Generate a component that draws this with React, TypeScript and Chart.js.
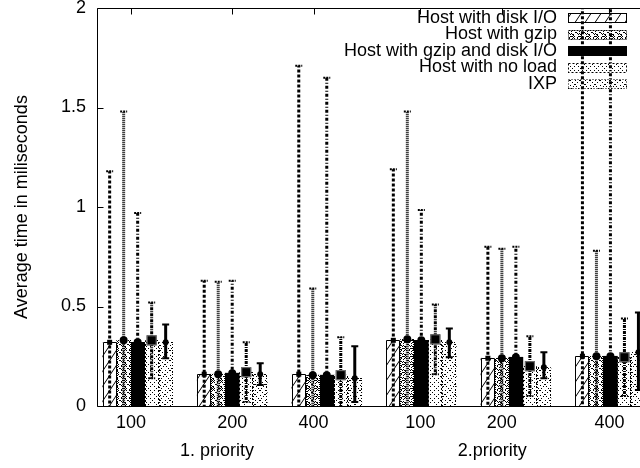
import React, { useEffect, useRef } from "react";
import { Chart, registerables } from "chart.js";

Chart.register(...registerables);

// ---------------- data ----------------
const xLabels = ["100", "200", "400", "100", "200", "400"];
const tickAt = [-0.07, 1.0, 1.86, 2.99, 3.85, 4.99];
const groupLabels = ["1. priority", "2.priority"];
const groupAt = [0.84, 3.75];
const seriesNames = [
  "Host with disk I/O",
  "Host with gzip",
  "Host with gzip and disk I/O",
  "Host with no load",
  "IXP",
];

const diskIO = [0.32, 0.16, 0.16, 0.33, 0.24, 0.25];
const diskIOLow = [-0.54, -0.31, -1.39, -0.53, -0.32, -1.8];
const diskIOHigh = [1.18, 0.63, 1.71, 1.19, 0.8, 2.3];

const gzip = [0.33, 0.16, 0.155, 0.335, 0.24, 0.25];
const gzipLow = [-0.82, -0.3, -0.28, -0.81, -0.31, -0.28];
const gzipHigh = [1.48, 0.625, 0.59, 1.48, 0.79, 0.78];

const gzipDisk = [0.32, 0.165, 0.155, 0.33, 0.245, 0.25];
const gzipDiskLow = [-0.33, -0.3, -1.34, -0.33, -0.31, -1.8];
const gzipDiskHigh = [0.97, 0.63, 1.65, 0.985, 0.8, 2.3];

const noLoad = [0.33, 0.17, 0.155, 0.335, 0.2, 0.245];
const noLoadLow = [0.14, 0.02, -0.03, 0.16, 0.05, 0.05];
const noLoadHigh = [0.52, 0.32, 0.345, 0.51, 0.35, 0.44];

const ixp = [0.32, 0.16, 0.14, 0.32, 0.195, 0.27];
const ixpLow = [0.24, 0.105, 0.02, 0.245, 0.14, 0.08];
const ixpHigh = [0.41, 0.215, 0.3, 0.39, 0.27, 0.47];

const yTitle = "Average time in miliseconds";

// ---------------- styles ----------------
const FONT = "Liberation Sans";
const FS = 18;
const borderDash = [[], [1, 1], [], [2, 2], [1, 2]];
const errDash = [[3, 2], [1, 1], [3, 2, 1, 2], [1, 1, 3, 1], []];

function makePattern(kind: number): CanvasPattern | string {
  if (kind === 2) return "#000";
  const c = document.createElement("canvas");
  const g = c.getContext("2d")!;
  const px = (x: number, y: number) => g.fillRect(x, y, 1, 1);
  if (kind === 0) {
    c.width = 10;
    c.height = 15;
    g.fillStyle = "#fff";
    g.fillRect(0, 0, 10, 15);
    g.strokeStyle = "#000";
    g.lineWidth = 1;
    for (const off of [-10, 0, 10]) {
      g.beginPath();
      g.moveTo(-2 + off, 18);
      g.lineTo(12 + off, -3);
      g.stroke();
    }
  } else if (kind === 1) {
    c.width = 8;
    c.height = 8;
    g.fillStyle = "#fff";
    g.fillRect(0, 0, 8, 8);
    g.fillStyle = "#000";
    for (let i = 0; i < 8; i += 1) {
      if (i % 2 === 0) {
        px(i, i);
        px(7 - i, i);
      }
    }
    px(3, 1); px(5, 3); px(1, 5); px(3, 7); px(1, 1); px(5, 5);
    px(4, 2); px(2, 4); px(6, 4); px(4, 6);
  } else if (kind === 3) {
    c.width = 8;
    c.height = 8;
    g.fillStyle = "#fff";
    g.fillRect(0, 0, 8, 8);
    g.fillStyle = "#000";
    px(0, 0); px(2, 2); px(4, 4); px(6, 6); px(6, 2); px(2, 6);
  } else {
    c.width = 10;
    c.height = 10;
    g.fillStyle = "#fff";
    g.fillRect(0, 0, 10, 10);
    g.fillStyle = "#000";
    for (let i = 0; i < 10; i++) {
      if (i % 2 === 0) {
        px(i, i);
        px(9 - i, i);
      }
    }
    px(5, 0); px(0, 5);
  }
  return g.createPattern(c, "repeat")!;
}

function drawMarker(ctx: CanvasRenderingContext2D, s: number, x: number, y: number) {
  ctx.save();
  ctx.setLineDash([]);
  ctx.fillStyle = "#000";
  if (s === 0) {
    ctx.fillRect(x - 2.5, y - 2.5, 5, 5);
  } else if (s === 3) {
    ctx.fillStyle = "#000";
    ctx.fillRect(x - 5, y - 5, 10, 10);
    ctx.strokeStyle = "#777";
    ctx.lineWidth = 1;
    ctx.strokeRect(x - 4.5, y - 4.5, 9, 9);
  } else {
    ctx.beginPath();
    ctx.arc(x, y, s === 4 ? 3 : 4, 0, Math.PI * 2);
    ctx.fill();
  }
  ctx.restore();
}

export default function App() {
  const ref = useRef<HTMLCanvasElement>(null);

  useEffect(() => {
    const canvas = ref.current!;
    const patterns = [0, 1, 2, 3, 4].map((k) => makePattern(k));
    const values = [diskIO, gzip, gzipDisk, noLoad, ixp];
    const lows = [diskIOLow, gzipLow, gzipDiskLow, noLoadLow, ixpLow];
    const highs = [diskIOHigh, gzipHigh, gzipDiskHigh, noLoadHigh, ixpHigh];
    const font = { family: FONT, size: FS };

    const gnuPlugin = {
      id: "gnu",
      beforeDatasetsDraw(chart: any) {
        const { ctx, chartArea: a, scales } = chart;
        ctx.save();
        ctx.strokeStyle = "#000";
        ctx.lineWidth = 1;
        ctx.setLineDash([]);
        ctx.beginPath();
        for (const v of tickAt) {
          const px = Math.round(scales.x.getPixelForValue(v)) + 0.5;
          ctx.moveTo(px, a.bottom);
          ctx.lineTo(px, a.bottom - 6);
        }
        ctx.stroke();
        ctx.restore();
      },
      afterDatasetsDraw(chart: any) {
        const { ctx, chartArea: a, scales } = chart;
        const xs = scales.x;
        const ys = scales.y;
        ctx.save();
        // bar outlines
        for (let s = 0; s < values.length; s++) {
          const meta = chart.getDatasetMeta(s);
          ctx.strokeStyle = "#000";
          ctx.lineWidth = 1;
          ctx.setLineDash(borderDash[s]);
          meta.data.forEach((bar: any) => {
            const { x, y, base, width } = bar.getProps(["x", "y", "base", "width"], true);
            const l = Math.round(x - width / 2) + 0.5;
            const r = Math.round(x + width / 2) - 0.5;
            const t = Math.round(y) + 0.5;
            const b = Math.round(base);
            ctx.beginPath();
            ctx.moveTo(l, b);
            ctx.lineTo(l, t);
            ctx.lineTo(r, t);
            ctx.lineTo(r, b);
            ctx.stroke();
          });
        }
        // frame
        ctx.setLineDash([]);
        ctx.strokeStyle = "#000";
        ctx.lineWidth = 1;
        const L = Math.round(a.left) + 0.5;
        const T = Math.round(a.top) + 0.5;
        const B = Math.round(a.bottom) + 0.5;
        const R = Math.round(a.right) + 0.5;
        ctx.beginPath();
        ctx.moveTo(R, T);
        ctx.lineTo(L, T);
        ctx.lineTo(L, B);
        ctx.lineTo(R, B);
        ctx.stroke();
        // inner ticks
        ctx.beginPath();
        for (const t of ys.ticks) {
          const py = Math.round(ys.getPixelForValue(t.value)) + 0.5;
          ctx.moveTo(L, py);
          ctx.lineTo(L + 6, py);
        }
        for (const v of tickAt) {
          const px = Math.round(xs.getPixelForValue(v)) + 0.5;
          ctx.moveTo(px, T);
          ctx.lineTo(px, T + 6);
        }
        ctx.stroke();
        // legend
        ctx.font = `${FS}px "${FONT}"`;
        ctx.textAlign = "right";
        ctx.textBaseline = "middle";
        ctx.fillStyle = "#000";
        const textRight = 557;
        const keyL = 568;
        const keyW = 59;
        const keyH = 10;
        seriesNames.forEach((name, s) => {
          const cy = 18 + s * 16.5;
          ctx.fillText(name, textRight, cy);
          const top = Math.round(cy - keyH / 2);
          ctx.fillStyle = patterns[s] as any;
          ctx.fillRect(keyL, top, keyW, keyH);
          ctx.setLineDash(borderDash[s]);
          ctx.strokeStyle = "#000";
          ctx.strokeRect(keyL + 0.5, top + 0.5, keyW - 1, keyH - 1);
          ctx.setLineDash([]);
          ctx.fillStyle = "#000";
        });
        // error bars
        ctx.beginPath();
        ctx.rect(a.left, a.top, a.right - a.left, a.bottom - a.top);
        ctx.clip();
        for (let s = 0; s < values.length; s++) {
          const meta = chart.getDatasetMeta(s);
          meta.data.forEach((bar: any, i: number) => {
            const bx = bar.x;
            const yl = ys.getPixelForValue(lows[s][i]);
            const yh = ys.getPixelForValue(highs[s][i]);
            ctx.strokeStyle = "#000";
            ctx.setLineDash(errDash[s]);
            ctx.lineWidth = 3;
            ctx.beginPath();
            ctx.moveTo(bx, yl);
            ctx.lineTo(bx, yh);
            ctx.stroke();
            ctx.lineWidth = 2;
            ctx.setLineDash(s === 4 ? [] : [2, 1]);
            ctx.beginPath();
            ctx.moveTo(bx - 3.5, yh);
            ctx.lineTo(bx + 3.5, yh);
            ctx.moveTo(bx - 3.5, yl);
            ctx.lineTo(bx + 3.5, yl);
            ctx.stroke();
            drawMarker(ctx, s, bx, ys.getPixelForValue(values[s][i]));
          });
        }
        ctx.restore();
        // group labels
        ctx.save();
        ctx.font = `${FS}px "${FONT}"`;
        ctx.textAlign = "center";
        ctx.textBaseline = "middle";
        ctx.fillStyle = "#000";
        groupLabels.forEach((g, k) => {
          ctx.fillText(g, xs.getPixelForValue(groupAt[k]), 451);
        });
        ctx.restore();
      },
    };

    const chart = new Chart(canvas, {
      type: "bar",
      data: {
        datasets: values.map((vals, s) => ({
          label: seriesNames[s],
          data: vals.map((v, i) => ({ x: i, y: v })),
          backgroundColor: patterns[s] as any,
          borderWidth: 0,
          barThickness: 14,
        })),
      },
      options: {
        responsive: false,
        animation: false,
        devicePixelRatio: 1,
        layout: { padding: { top: 8, right: 10, left: 0, bottom: 0 } },
        plugins: { legend: { display: false }, tooltip: { enabled: false } },
        scales: {
          x: {
            type: "linear",
            min: -0.43,
            max: 5.63,
            offset: false,
            grid: { display: false, drawTicks: false },
            border: { display: false },
            afterBuildTicks: (s: any) => {
              s.ticks = tickAt.map((v) => ({ value: v }));
            },
            afterFit: (s: any) => {
              s.height = 62;
              s.paddingLeft = 0;
              s.paddingRight = 0;
            },
            ticks: {
              autoSkip: false,
              maxRotation: 0,
              padding: 6,
              color: "#000",
              font,
              callback: (_v: any, i: number) => xLabels[i],
            },
          },
          y: {
            min: 0,
            max: 2,
            grid: { display: false, drawTicks: false },
            border: { display: false },
            afterFit: (s: any) => {
              s.width = 97;
              s.paddingTop = 0;
              s.paddingBottom = 0;
            },
            ticks: {
              stepSize: 0.5,
              padding: 11,
              color: "#000",
              font,
              callback: (v: any) => String(v),
            },
            title: {
              display: true,
              text: yTitle,
              color: "#000",
              font,
              padding: { top: 11, bottom: 0 },
            },
          },
        },
      },
      plugins: [gnuPlugin],
    } as any);

    return () => chart.destroy();
  }, []);

  return (
    <div
      style={{
        position: "fixed",
        left: 0,
        top: 0,
        width: 640,
        height: 468,
        overflow: "hidden",
        background: "#fff",
      }}
    >
      <canvas ref={ref} width={680} height={468} style={{ display: "block", width: 680, height: 468 }} />
    </div>
  );
}
